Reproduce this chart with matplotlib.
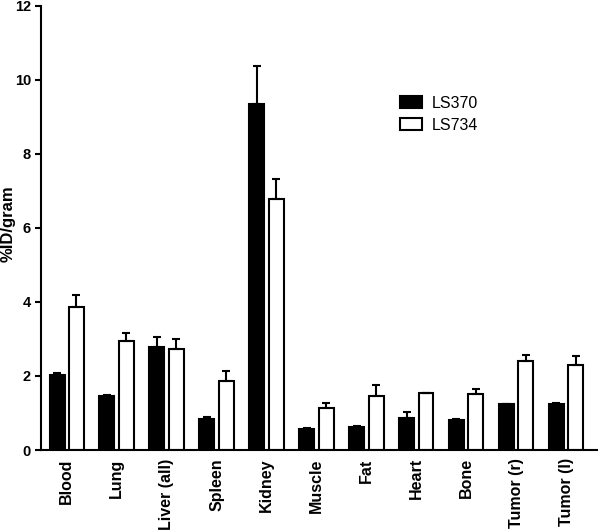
import numpy as np
import matplotlib
matplotlib.use("Agg")
import matplotlib.pyplot as plt

plt.rcParams["font.family"] = ["Liberation Sans", "DejaVu Sans"]

organs = ["Blood", "Lung", "Liver (all)", "Spleen", "Kidney", "Muscle",
          "Fat", "Heart", "Bone", "Tumor (r)", "Tumor (l)"]
ls370 = [2.03, 1.46, 2.79, 0.85, 9.34, 0.58, 0.61, 0.86, 0.81, 1.24, 1.24]
ls370_err = [0.05, 0.02, 0.26, 0.04, 1.04, 0.02, 0.05, 0.16, 0.04, 0.01, 0.02]
ls734 = [3.87, 2.95, 2.73, 1.86, 6.78, 1.14, 1.45, 1.55, 1.50, 2.41, 2.29]
ls734_err = [0.33, 0.22, 0.27, 0.27, 0.55, 0.12, 0.32, 0.0, 0.14, 0.17, 0.26]

fig, ax = plt.subplots(figsize=(6, 5.31), dpi=100)
fig.subplots_adjust(left=0.068, right=0.995, bottom=0.1525, top=0.989)

x = np.arange(len(organs))
w = 0.3
off = 0.195
ax.bar(x - off, ls370, w, color="black", edgecolor="black", linewidth=1.5,
       yerr=[np.zeros(len(x)), ls370_err],
       error_kw=dict(ecolor="black", elinewidth=1.5, capsize=3, capthick=1.5),
       label="LS370", zorder=2)
ax.bar(x + off, ls734, w, color="white", edgecolor="black", linewidth=1.5,
       yerr=[np.zeros(len(x)), ls734_err],
       error_kw=dict(ecolor="black", elinewidth=1.5, capsize=3, capthick=1.5),
       label="LS734", zorder=2)

ax.set_xlim(-0.52, 10.62)
ax.set_ylim(0, 12)
ax.set_yticks([0, 2, 4, 6, 8, 10, 12])
ax.set_xticks(x)
ax.set_xticklabels(organs, rotation=90, fontsize=11.5, fontweight="bold")
ax.tick_params(axis="x", length=0, pad=6)
ax.tick_params(axis="y", length=4, width=1.5, labelsize=10.5, pad=3)
for lab in ax.get_yticklabels():
    lab.set_fontweight("bold")
ax.set_ylabel("%ID/gram", fontsize=12, fontweight="bold")
ax.yaxis.set_label_coords(-0.045, 0.51)

for s in ["top", "right"]:
    ax.spines[s].set_visible(False)
for s in ["left", "bottom"]:
    ax.spines[s].set_linewidth(1.5)

ax.legend(loc="upper left", bbox_to_anchor=(0.62, 0.83), frameon=False,
          fontsize=11.5, handlelength=1.4, handleheight=0.8,
          handletextpad=0.6, labelspacing=0.45)

fig.savefig("out.png", dpi=100)
